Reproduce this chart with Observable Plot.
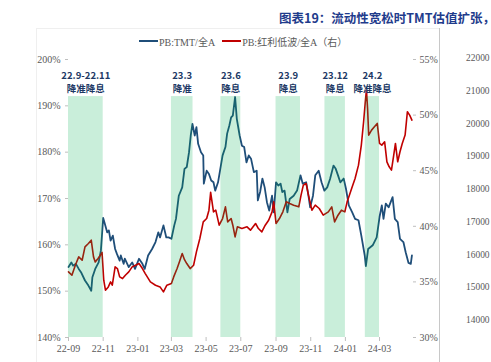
<!DOCTYPE html>
<html><head><meta charset="utf-8">
<script src="https://cdn.jsdelivr.net/npm/d3@7"></script>
<script src="https://cdn.jsdelivr.net/npm/@observablehq/plot@0.6"></script>
<style>
body{margin:0;background:#fff;}
#wrap{position:relative;width:491px;height:362px;overflow:hidden;background:#fff;}
#title{position:absolute;left:279px;top:8px;white-space:nowrap;font:bold 12.5px "Noto Sans CJK SC";color:#1f3c8c;}
#legend{position:absolute;left:139px;top:35px;white-space:nowrap;font:10px "Liberation Serif","Noto Sans CJK SC";color:#595959;display:flex;align-items:center;height:12px;}
.sw{display:inline-block;width:19px;height:2px;margin-right:1px;}
#chart{position:absolute;left:0;top:0;}
#side{position:absolute;left:439px;top:0;}
#divider{position:absolute;left:439px;top:28px;width:1px;height:334px;background:#c8c8c8;}
#frame{position:absolute;left:36px;top:28px;width:403px;height:340px;border-left:1px solid #efefef;border-top:1px solid #efefef;}
</style></head>
<body>
<div id="wrap">
  <div id="frame"></div>
  <div id="divider"></div>
  <div id="chart"></div>
  <div id="side"></div>
  <div id="title">图表19：流动性宽松时TMT估值扩张，红利低波估值收缩</div>
  <div id="legend"><span class="sw" style="background:#1f4e79"></span><span>PB:TMT/全A</span><span class="sw" style="background:#c00000;margin-left:7px"></span><span>PB:红利低波/全A（右）</span></div>
</div>
<script>
// ---- data ----
const tmtDates = ["2022-09-01","2022-09-06","2022-09-09","2022-09-14","2022-09-19","2022-09-23","2022-09-30","2022-10-06","2022-10-11","2022-10-13","2022-10-18","2022-10-24","2022-10-28","2022-11-01","2022-11-04","2022-11-08","2022-11-11","2022-11-14","2022-11-18","2022-11-22","2022-11-25","2022-11-30","2022-12-02","2022-12-07","2022-12-09","2022-12-16","2022-12-22","2022-12-27","2023-01-03","2023-01-09","2023-01-13","2023-01-19","2023-01-26","2023-02-01","2023-02-06","2023-02-09","2023-02-15","2023-02-20","2023-02-24","2023-03-01","2023-03-06","2023-03-09","2023-03-14","2023-03-20","2023-03-24","2023-03-28","2023-04-01","2023-04-04","2023-04-07","2023-04-11","2023-04-14","2023-04-17","2023-04-22","2023-04-26","2023-04-27","2023-05-02","2023-05-06","2023-05-10","2023-05-14","2023-05-17","2023-05-22","2023-05-26","2023-05-30","2023-06-04","2023-06-07","2023-06-11","2023-06-14","2023-06-17","2023-06-21","2023-06-24","2023-06-29","2023-07-03","2023-07-07","2023-07-11","2023-07-15","2023-07-19","2023-07-24","2023-07-29","2023-07-31","2023-08-04","2023-08-08","2023-08-12","2023-08-16","2023-08-20","2023-08-25","2023-08-28","2023-09-01","2023-09-05","2023-09-09","2023-09-12","2023-09-16","2023-09-21","2023-09-25","2023-10-02","2023-10-08","2023-10-14","2023-10-18","2023-10-24","2023-10-28","2023-10-31","2023-11-05","2023-11-09","2023-11-15","2023-11-20","2023-11-25","2023-11-30","2023-12-05","2023-12-11","2023-12-15","2023-12-19","2023-12-23","2023-12-29","2024-01-02","2024-01-07","2024-01-13","2024-01-18","2024-01-24","2024-01-29","2024-02-04","2024-02-06","2024-02-10","2024-02-18","2024-02-25","2024-03-01","2024-03-05","2024-03-08","2024-03-12","2024-03-17","2024-03-24","2024-03-28","2024-04-02","2024-04-06","2024-04-12","2024-04-16","2024-04-21","2024-04-25","2024-04-27"];
const tmtValues = [155.2,156.2,155.5,155.9,154.8,154.1,152.3,151.2,150.1,153.0,154.8,156.2,158.8,165.8,164.5,162.7,163.1,160.9,162.0,159.1,158.1,156.6,157.7,155.9,157.0,155.2,156.2,154.8,157.0,155.9,154.8,157.7,159.1,160.6,162.7,161.6,164.2,161.6,161.6,161.3,164.2,165.6,170.6,172.4,176.4,176.8,180.0,183.6,186.1,183.6,185.4,181.8,180.0,179.3,173.2,176.0,175.3,173.9,173.5,171.7,173.5,176.4,179.3,181.1,184.0,185.8,187.5,187.9,191.9,187.2,183.6,181.4,181.1,177.8,179.3,178.6,175.7,176.0,169.6,171.4,174.3,172.4,169.2,167.4,170.6,167.0,173.5,172.8,173.2,171.4,171.7,167.0,169.9,170.6,171.7,175.0,173.2,173.5,170.6,168.1,170.6,175.0,176.0,173.5,171.7,172.4,174.2,177.1,176.4,175.0,173.5,174.3,172.1,168.5,167.0,165.6,165.3,162.0,157.7,155.4,159.1,159.9,161.6,166.0,168.5,165.6,168.9,168.1,170.3,165.6,164.9,161.3,160.6,158.4,156.1,155.9,157.7];

const divDates = ["2022-09-01","2022-09-07","2022-09-13","2022-09-19","2022-09-25","2022-09-30","2022-10-06","2022-10-11","2022-10-15","2022-10-18","2022-10-23","2022-10-27","2022-10-30","2022-11-02","2022-11-05","2022-11-10","2022-11-14","2022-11-17","2022-11-22","2022-11-26","2022-11-30","2022-12-05","2022-12-10","2022-12-16","2022-12-22","2022-12-28","2023-01-03","2023-01-09","2023-01-14","2023-01-23","2023-02-01","2023-02-09","2023-02-15","2023-02-21","2023-03-01","2023-03-05","2023-03-11","2023-03-15","2023-03-20","2023-03-24","2023-03-28","2023-04-03","2023-04-09","2023-04-14","2023-04-20","2023-04-26","2023-05-02","2023-05-06","2023-05-09","2023-05-14","2023-05-18","2023-05-24","2023-05-30","2023-06-04","2023-06-08","2023-06-14","2023-06-17","2023-06-21","2023-06-25","2023-07-03","2023-07-12","2023-07-18","2023-07-27","2023-08-01","2023-08-07","2023-08-13","2023-08-19","2023-08-25","2023-08-28","2023-09-01","2023-09-07","2023-09-13","2023-09-19","2023-09-25","2023-10-02","2023-10-11","2023-10-15","2023-10-19","2023-10-24","2023-10-28","2023-11-03","2023-11-09","2023-11-16","2023-11-23","2023-12-02","2023-12-08","2023-12-13","2023-12-19","2023-12-25","2023-12-31","2024-01-04","2024-01-08","2024-01-13","2024-01-18","2024-01-24","2024-01-29","2024-02-02","2024-02-05","2024-02-07","2024-02-09","2024-02-11","2024-02-16","2024-02-21","2024-02-26","2024-03-01","2024-03-05","2024-03-10","2024-03-14","2024-03-18","2024-03-22","2024-03-26","2024-03-29","2024-04-02","2024-04-06","2024-04-10","2024-04-15","2024-04-19","2024-04-23","2024-04-27"];
const divValues = [35.9,35.6,36.5,37.25,36.95,38.15,38.45,38.75,37.25,36.8,37.1,37.4,37.65,35.15,34.25,34.55,35.0,34.7,36.35,36.2,35.45,35.3,35.6,35.9,36.35,36.5,36.65,36.2,35.75,35.0,34.7,34.55,34.1,34.7,34.85,35.45,36.2,36.8,37.55,37.0,36.65,36.2,36.5,37.7,38.9,40.4,40.7,41.45,43.05,41.3,41.45,40.1,40.7,41.75,40.4,40.7,40.1,39.05,39.95,39.8,39.95,39.65,40.25,39.8,39.5,40.1,40.55,41.3,42.2,40.25,40.7,41.3,42.2,42.05,41.9,41.75,42.8,43.7,43.85,42.8,41.45,41.9,41.6,41.0,41.3,41.75,40.4,41.0,41.45,41.3,42.2,42.8,43.55,44.3,45.5,47.3,49.4,51.2,52.25,50.6,48.2,48.65,48.95,49.25,47.45,47.3,47.6,45.8,45.35,45.05,46.4,47.45,45.8,46.7,47.45,48.2,50.3,50.0,49.55];

const bandStart = ["2022-09-01","2023-03-01","2023-05-27","2023-09-01","2023-11-26","2024-02-05"];
const bandEnd   = ["2022-11-01","2023-04-08","2023-07-01","2023-10-14","2024-01-01","2024-03-01"];
const bandLabel1 = ["22.9-22.11","23.3","23.6","23.9","23.12","24.2"];
const bandLabel2 = ["降准降息","降准","降息","降息","降息","降准降息"];

const xTicks = ["2022-09-01","2022-11-01","2023-01-01","2023-03-01","2023-05-01","2023-07-01","2023-09-01","2023-11-01","2024-01-01","2024-03-01"];
const leftTicks = [140,150,160,170,180,190,200];
const rightTicks = [30,35,40,45,50,55];
const sideTicks = [14000,15000,16000,17000,18000,19000,20000,21000,22000];

// ---- build ----
const parse = d3.utcParse("%Y-%m-%d");
const tmt = tmtDates.map((d,i)=>({date: parse(d), v: tmtValues[i]}));
const div = divDates.map((d,i)=>({date: parse(d), r: divValues[i]}));
const toLeft = r => 140 + (r - 30) * 60/25;
const fromLeft = v => (v - 140) * 25/60 + 30;
const bands = bandStart.map((s,i)=>{
  const x1 = parse(s), x2 = parse(bandEnd[i]);
  return {x1, x2, mid: new Date((+x1 + +x2)/2), label: bandLabel1[i] + "\n" + bandLabel2[i]};
});
const axisCol = "#bfbfbf", txtCol = "#595959";

const chart = Plot.plot({
  width: 491, height: 362,
  marginLeft: 68, marginRight: 79, marginTop: 59, marginBottom: 25,
  style: {fontFamily: '"Liberation Serif", serif', fontSize: "10px", background: "transparent", overflow: "visible"},
  x: {type: "utc", domain: [parse("2022-09-01"), parse("2024-04-28")]},
  y: {domain: [140, 200]},
  marks: [
    Plot.axisY(leftTicks, {anchor:"left", tickFormat: d => d + "%", tickSize:3, tickPadding:5, stroke:axisCol, fill:txtCol, line:true, label:null}),
    Plot.axisY(rightTicks.map(toLeft), {anchor:"right", tickFormat: d => Math.round(fromLeft(d)) + "%", tickSize:3, tickPadding:4, stroke:axisCol, fill:txtCol, line:true, label:null}),
    Plot.axisX(xTicks.map(parse), {tickFormat: d3.utcFormat("%y-%m"), tickSize:4, tickPadding:3, stroke:axisCol, fill:txtCol, line:true, label:null}),
    Plot.lineY(tmt, {x:"date", y:"v", stroke:"#1f4e79", strokeWidth:1.8}),
    Plot.lineY(div, {x:"date", y: d => toLeft(d.r), stroke:"#c00000", strokeWidth:1.6}),
    Plot.rect(bands, {x1:"x1", x2:"x2", y1: () => 140, y2: () => 192, fill:"#00b050", fillOpacity:0.21}),
    Plot.text(bands, {x:"mid", y: () => 195.3, text:"label", lineHeight:1.35, lineAnchor:"middle",
      fill:"#203864", fontSize:9.5, fontWeight:"bold", fontFamily:'"Noto Sans CJK SC", sans-serif'})
  ]
});
document.getElementById("chart").appendChild(chart);

const side = Plot.plot({
  width: 55, height: 362, marginLeft: 54, marginRight: 1, marginTop: 61, marginBottom: 24,
  style: {fontFamily: '"Liberation Serif", serif', fontSize: "10px", background: "transparent", overflow: "visible"},
  y: {domain: [14000, 22000]},
  marks: [Plot.axisY(sideTicks, {tickSize:0, tickPadding:1, fill:txtCol, tickFormat: d => String(d), label:null})]
});
document.getElementById("side").appendChild(side);
</script>
</body></html>
